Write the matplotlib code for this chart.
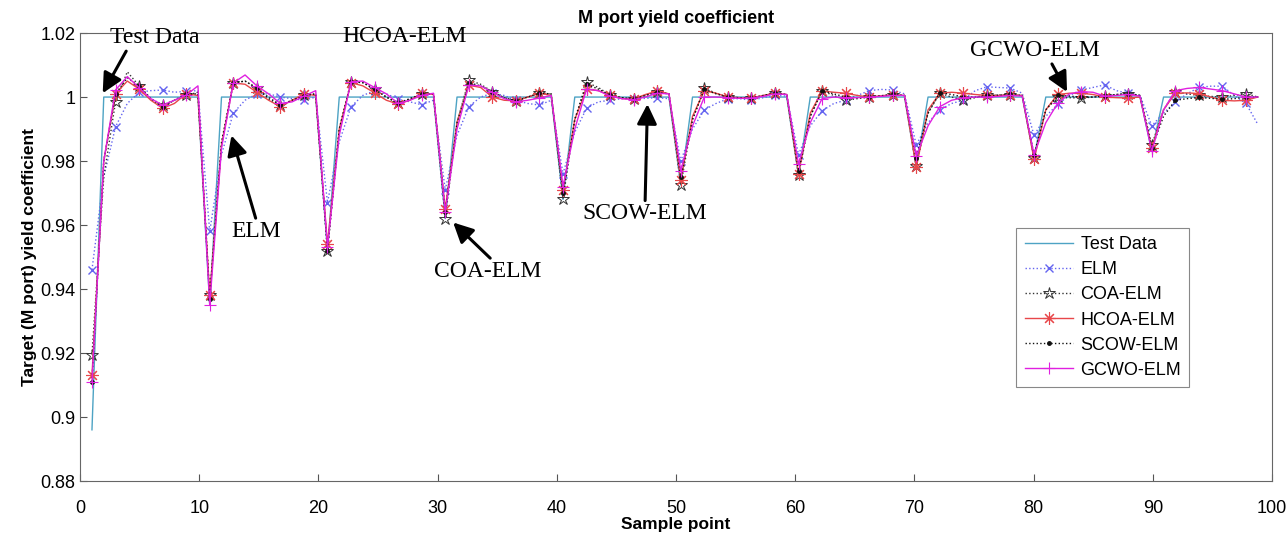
import numpy as np
import matplotlib
matplotlib.use("Agg")
from matplotlib import pyplot as plt

plt.rcParams['font.family'] = ['Liberation Sans', 'DejaVu Sans']

# sample positions (100 samples spread over the axis)
x = np.linspace(1, 98.8, 100)

test_data = [
    0.896, 1, 1, 1, 1, 1, 1, 1, 1, 1,
    0.935, 1, 1, 1, 1, 1, 1, 1, 1, 1,
    0.952, 1, 1, 1, 1, 1, 1, 1, 1, 1,
    0.962, 1, 1, 1, 1, 1, 1, 1, 1, 1,
    0.968, 1, 1, 1, 1, 1, 1, 1, 1, 1,
    0.9725, 1, 1, 1, 1, 1, 1, 1, 1, 1,
    0.9755, 1, 1, 1, 1, 1, 1, 1, 1, 1,
    0.978, 1, 1, 1, 1, 1, 1, 1, 1, 1,
    0.981, 1, 1, 1, 1, 1, 1, 1, 1, 1,
    0.983, 1, 1, 1, 1, 1, 1, 1, 1, 1,
]

elm = [
    0.946, 0.975, 0.9907, 0.998, 1.0015, 1.002, 1.0022, 1.0015, 1.0018, 1.002,
    0.958, 0.982, 0.995, 0.999, 1.001, 1.001, 1.0, 0.9995, 0.999, 1.0,
    0.967, 0.986, 0.997, 1.0005, 1.002, 1.001, 0.9994, 0.9985, 0.9976, 0.999,
    0.971, 0.988, 0.997, 1.0, 1.0012, 1.0005, 0.999, 0.998, 0.9975, 0.999,
    0.976, 0.989, 0.9965, 0.9985, 0.999, 0.9995, 0.9994, 0.9996, 0.9998, 0.9995,
    0.980, 0.990, 0.996, 0.998, 0.9995, 0.9995, 0.999, 0.9998, 1.0005, 1.0003,
    0.982, 0.991, 0.9957, 0.998, 0.999, 1.0005, 1.002, 1.0024, 1.0022, 1.001,
    0.985, 0.992, 0.996, 0.998, 0.999, 1.002, 1.0032, 1.003, 1.0028, 1.0012,
    0.988, 0.994, 0.9977, 1.0005, 1.0022, 1.003, 1.0038, 1.002, 1.0012, 1.0005,
    0.991, 0.995, 0.9985, 1.001, 1.003, 1.0034, 1.0034, 1.0005, 0.998, 0.9915,
]

coa_elm = [
    0.9195, 0.975, 0.9985, 1.0079, 1.0035, 0.9995, 0.9975, 0.999, 1.0005, 1.0015,
    0.938, 0.985, 1.0044, 1.005, 1.0028, 1.0, 0.9975, 0.999, 1.0005, 1.001,
    0.952, 0.990, 1.0048, 1.0045, 1.0025, 1.0, 0.998, 0.9995, 1.001, 1.001,
    0.962, 0.992, 1.0053, 1.004, 1.0017, 0.9998, 0.9988, 1.0, 1.0012, 1.001,
    0.968, 0.993, 1.0046, 1.003, 1.0006, 0.9998, 0.9994, 1.0005, 1.0015, 1.001,
    0.9725, 0.993, 1.0027, 1.0012, 1.0, 0.9998, 0.9997, 1.0005, 1.0012, 1.0008,
    0.9755, 0.994, 1.0019, 1.0005, 0.999, 0.9995, 1.0, 1.0004, 1.0007, 1.0005,
    0.9785, 0.995, 1.0012, 1.0, 0.999, 0.9998, 1.0005, 1.0006, 1.0007, 1.0005,
    0.981, 0.996, 1.0, 0.9998, 0.9997, 1.0, 1.0003, 1.0008, 1.0011, 1.0005,
    0.985, 0.996, 1.0017, 1.001, 1.0005, 1.0002, 1.0, 1.0005, 1.0011, 1.0,
]

hcoa_elm = [
    0.913, 0.980, 1.001, 1.005, 1.0025, 0.999, 0.9965, 0.998, 1.001, 1.0005,
    0.938, 0.985, 1.0044, 1.004, 1.0015, 0.999, 0.997, 0.999, 1.001, 1.0005,
    0.954, 0.990, 1.0045, 1.0035, 1.0013, 0.999, 0.9978, 0.999, 1.0012, 1.0008,
    0.965, 0.992, 1.0037, 1.003, 1.0, 0.999, 0.9988, 1.0, 1.0012, 1.0005,
    0.971, 0.993, 1.0025, 1.002, 1.0006, 0.9995, 0.9994, 1.0008, 1.0019, 1.001,
    0.974, 0.994, 1.002, 1.0012, 1.0, 0.9998, 0.9997, 1.0005, 1.0012, 1.0008,
    0.976, 0.995, 1.0019, 1.0015, 1.0012, 1.0005, 1.0, 1.0004, 1.0007, 1.0005,
    0.978, 0.996, 1.0012, 1.0015, 1.0012, 1.0008, 1.0005, 1.0005, 1.0007, 1.0005,
    0.9805, 0.996, 1.0008, 1.0012, 1.0012, 1.0008, 1.0, 0.9998, 0.9997, 1.0,
    0.984, 0.996, 1.0012, 1.0013, 1.0011, 1.0, 0.999, 0.9988, 0.999, 1.0,
]

scow_elm = [
    0.911, 0.980, 1.001, 1.006, 1.0035, 0.9995, 0.997, 0.999, 1.001, 1.001,
    0.937, 0.986, 1.0044, 1.005, 1.0028, 0.9995, 0.9975, 0.999, 1.0004, 1.001,
    0.952, 0.990, 1.0048, 1.0045, 1.0025, 1.0, 0.998, 0.9995, 1.0008, 1.001,
    0.964, 0.992, 1.0045, 1.0035, 1.0017, 0.9998, 0.9988, 1.0, 1.0012, 1.001,
    0.970, 0.993, 1.004, 1.0025, 1.0006, 0.9998, 0.9994, 1.0005, 1.0015, 1.001,
    0.975, 0.993, 1.0025, 1.001, 1.0, 0.9998, 0.9997, 1.0005, 1.0012, 1.0008,
    0.977, 0.994, 1.002, 1.001, 1.0, 0.9998, 1.0, 1.0004, 1.0008, 1.0005,
    0.981, 0.995, 1.0014, 1.0008, 1.0, 1.0, 1.0005, 1.0006, 1.0008, 1.0005,
    0.982, 0.996, 1.0005, 1.0003, 1.0, 1.0, 1.0003, 1.0008, 1.0011, 1.0005,
    0.984, 0.994, 0.999, 0.9995, 0.9999, 0.9996, 0.9993, 0.9995, 1.0, 1.0,
]

gcwo_elm = [
    0.911, 0.980, 1.0022, 1.0064, 1.0029, 0.9995, 0.9975, 0.999, 1.0006, 1.0035,
    0.935, 0.984, 1.0044, 1.0069, 1.0035, 1.001, 0.998, 0.9985, 1.0003, 1.002,
    0.953, 0.988, 1.0048, 1.005, 1.003, 1.001, 0.998, 0.999, 1.0005, 1.0012,
    0.964, 0.990, 1.0037, 1.0035, 1.0015, 0.9995, 0.9985, 0.999, 0.9997, 1.0005,
    0.972, 0.990, 1.0025, 1.002, 1.0003, 0.9995, 0.9992, 1.0, 1.0012, 1.001,
    0.977, 0.991, 1.0, 1.0, 0.9998, 0.9996, 0.9997, 1.0002, 1.001, 1.0008,
    0.979, 0.992, 0.9995, 1.0, 0.9998, 0.9998, 1.0, 1.0002, 1.0005, 1.0005,
    0.9815, 0.991, 0.997, 0.999, 0.9998, 1.0, 1.0, 1.0002, 1.0005, 1.0003,
    0.982, 0.992, 0.998, 1.001, 1.0017, 1.0015, 1.0003, 1.0005, 1.0008, 1.0003,
    0.983, 0.996, 1.002, 1.0027, 1.003, 1.0025, 1.002, 1.001, 1.0, 1.0,
]

fig = plt.figure(figsize=(12.87, 5.42), dpi=100)
ax = fig.add_axes([0.0622, 0.1125, 0.9262, 0.8265])

ax.plot(x, test_data, color="#4da3c4", lw=1.0, label="Test Data")
ax.plot(x, elm, color="#6464f0", ls=":", lw=1.0, marker="x", ms=6,
        markevery=2, label="ELM")
ax.plot(x, coa_elm, color="#333333", ls=":", lw=1.0, marker="*", ms=9,
        mfc="none", mec="#333333", mew=0.7, markevery=2, label="COA-ELM")
ax.plot(x, hcoa_elm, color="#e8474a", lw=1.0, marker=(8, 2, 0), ms=9,
        mew=0.8, markevery=2, label="HCOA-ELM")
ax.plot(x, scow_elm, color="#111111", ls=":", lw=1.0, marker=".", ms=5,
        markevery=2, label="SCOW-ELM")
ax.plot(x, gcwo_elm, color="#e020e0", lw=1.0, marker="+", ms=9,
        mew=0.8, markevery=2, label="GCWO-ELM")

ax.set_xlim(0, 100)
ax.set_ylim(0.88, 1.02)
ax.set_xticks(range(0, 101, 10))
ax.set_yticks([0.88, 0.9, 0.92, 0.94, 0.96, 0.98, 1.0, 1.02])
ax.set_yticklabels(["0.88", "0.9", "0.92", "0.94", "0.96", "0.98", "1", "1.02"])
ax.tick_params(direction="in", labelsize=13, length=5, color="#555555")
ax.tick_params(axis="x", pad=14)
for s in ax.spines.values():
    s.set_color("#666666")

ax.set_xlabel("Sample point", fontsize=12.5, fontweight="bold", labelpad=0)
ax.set_ylabel("Target (M port) yield coefficient", fontsize=12.5,
              fontweight="bold", labelpad=2)
ax.set_title("M port yield coefficient", fontsize=13, fontweight="bold", pad=7)

leg = ax.legend(loc="lower left", bbox_to_anchor=(0.778, 0.19), fontsize=13,
                fancybox=False, framealpha=1.0, edgecolor="#888888",
                handlelength=2.7, borderpad=0.45, labelspacing=0.45,
                handletextpad=0.4)
leg.get_frame().set_linewidth(0.8)

serif = ['Liberation Serif', 'DejaVu Serif']
arrow = dict(arrowstyle="-|>", color="k", lw=2.2, mutation_scale=30,
             shrinkA=0, shrinkB=0)

ax.annotate("Test Data", xy=(1.9, 1.0012), xytext=(2.5, 1.0185),
            fontsize=17, family=serif, va="center", ha="left",
            arrowprops=dict(arrow, relpos=(0.2, 0.0)))
ax.text(22, 1.0188, "HCOA-ELM", fontsize=17, family=serif, va="center")
ax.annotate("ELM", xy=(12.7, 0.988), xytext=(14.8, 0.958),
            fontsize=17, family=serif, va="center", ha="center",
            arrowprops=dict(arrow, relpos=(0.5, 1.0)))
ax.annotate("COA-ELM", xy=(31.3, 0.9608), xytext=(34.2, 0.9455),
            fontsize=17, family=serif, va="center", ha="center",
            arrowprops=dict(arrow, relpos=(0.55, 1.0)))
ax.annotate("SCOW-ELM", xy=(47.6, 0.9978), xytext=(47.4, 0.9635),
            fontsize=17, family=serif, va="center", ha="center",
            arrowprops=dict(arrow, relpos=(0.5, 1.0)))
ax.annotate("GCWO-ELM", xy=(82.8, 1.0016), xytext=(80.1, 1.0145),
            fontsize=17, family=serif, va="center", ha="center",
            arrowprops=dict(arrow, relpos=(0.62, 0.0)))

plt.savefig("out.png", dpi=100)
